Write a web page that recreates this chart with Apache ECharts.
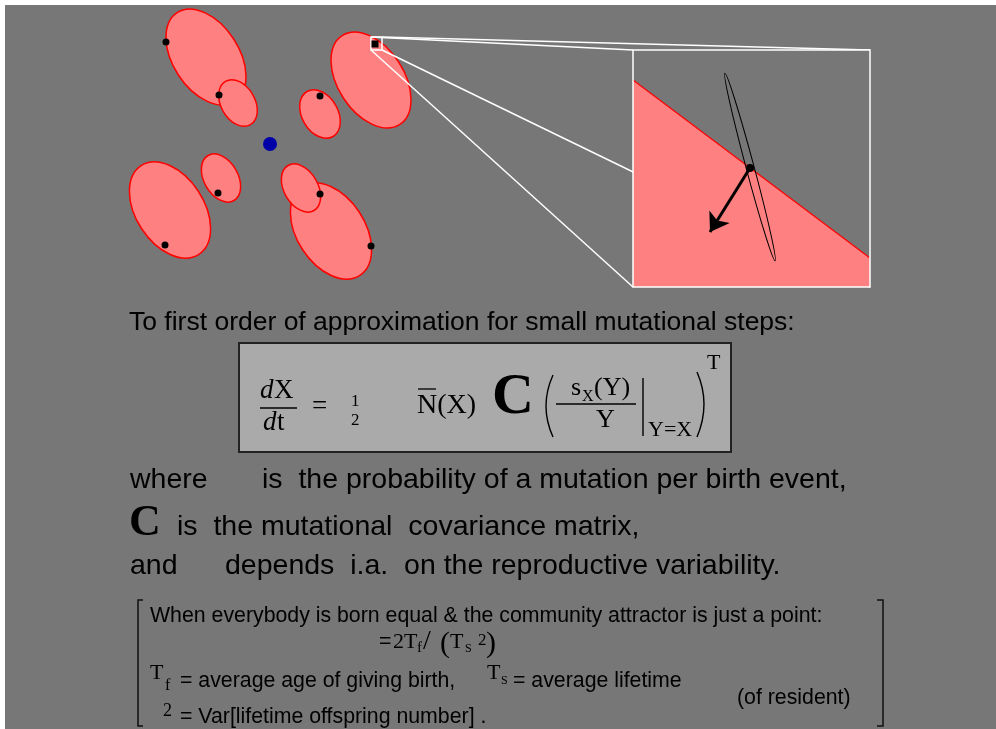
<!DOCTYPE html>
<html>
<head>
<meta charset="utf-8">
<script src="https://cdn.jsdelivr.net/npm/echarts@6/dist/echarts.min.js"></script>
<style>
  html, body { margin: 0; padding: 0; background: #fff; }
  #main { width: 996px; height: 729px; }
</style>
</head>
<body>
<div id="main"></div>
<script>
// ── data (pixel-space axes: x 0..996, y 0..729 downwards) ──
// mutant ellipses: big ones first, small ones drawn on top
const ellipseX    = [206, 371, 170, 331, 238, 320, 221, 301];
const ellipseY    = [57, 80, 210, 231, 103, 114, 178, 188];
const ellipseRx   = [53, 53, 53, 53, 25, 26, 26, 26];
const ellipseRy   = [33, 33, 34, 34, 17, 18, 17, 17];
const ellipseTilt = [57, 57, 57, 57, 60, 60, 60, 60];

// black resident-strategy dots
const dotX = [166, 219, 320, 218, 165, 320, 371];
const dotY = [42, 95, 96, 193, 245, 194, 246];
const squareDot = [375, 44];
const blueDot = [270, 144];

// zoomed detail
const zoomBox  = [371, 37, 382, 50];      // x1, y1, x2, y2
const insetBox = [633, 50, 870, 287];
const boundaryX = [633, 870];
const boundaryY = [80, 258];
const thinEllipse = [750, 167, 97, 4, 75]; // cx, cy, rx, ry, tilt
const insetDot = [750, 168];
const arrowTip = [710, 232];

const SANS = '"Liberation Sans", Arial, sans-serif';
const SERIF = '"Liberation Serif", "Times New Roman", serif';

const ellipseData = ellipseX.map((x, i) => [x, ellipseY[i], ellipseRx[i], ellipseRy[i], ellipseTilt[i]]);
const zoomLines = [
  [[zoomBox[0], zoomBox[1]], [insetBox[0], insetBox[1]]],
  [[zoomBox[2], zoomBox[1]], [insetBox[2], insetBox[1]]],
  [[zoomBox[0], zoomBox[3]], [insetBox[0], insetBox[3]]],
  [[zoomBox[2], zoomBox[3]], [insetBox[2], insetBox[3]]],
];

// ── text helper: place by baseline ──
function t(x, base, str, size, family, weight, style) {
  return {
    type: 'text', x: x, y: base - size * 0.32, silent: true,
    style: {
      text: str, fill: '#000', verticalAlign: 'middle',
      fontSize: size, fontFamily: family || SANS,
      fontWeight: weight || 'normal', fontStyle: style || 'normal'
    }
  };
}
function ln(x1, y1, x2, y2, w) {
  return { type: 'line', silent: true, shape: { x1, y1, x2, y2 }, style: { stroke: '#000', lineWidth: w || 1.3 } };
}
function curve(x1, y1, cx, cy, x2, y2) {
  return { type: 'bezierCurve', silent: true, shape: { x1, y1, cpx1: cx, cpy1: cy, x2, y2 }, style: { stroke: '#000', lineWidth: 1.4, fill: null } };
}
function bracket(pts) {
  return { type: 'polyline', silent: true, shape: { points: pts }, style: { stroke: '#111', lineWidth: 1.5, fill: null } };
}

const BIG = 28.5, SMALL = 21.3;

const texts = [
  { type: 'rect', shape: { x: 0, y: 0, width: 996, height: 5 }, style: { fill: '#fff' }, silent: true },
  { type: 'rect', shape: { x: 0, y: 0, width: 5, height: 729 }, style: { fill: '#fff' }, silent: true },

  t(129, 331, 'To first order of approximation for small mutational steps:', 26.5),

  // formula box
  { type: 'rect', silent: true, shape: { x: 239, y: 343, width: 492, height: 109 }, style: { fill: '#AAAAAA', stroke: '#222', lineWidth: 2 } },
  t(260, 400, 'd', 27, SERIF, 'normal', 'italic'),
  t(274, 400, 'X', 27, SERIF),
  ln(260, 408, 297, 408),
  t(263, 432, 'd', 27, SERIF, 'normal', 'italic'),
  t(277, 432, 't', 27, SERIF),
  t(312, 416, '=', 27, SERIF),
  t(351, 407, '1', 17, SERIF),
  t(351, 426, '2', 17, SERIF),
  t(417, 415, 'N(X)', 28, SERIF),
  ln(418, 389, 436, 389, 1.3),
  t(492, 417, 'C', 58, SERIF, 'bold'),
  curve(553, 375, 539, 406, 553, 437),
  t(571, 396, 's', 26, SERIF),
  t(582, 402, 'X', 16, SERIF),
  t(594, 396, '(Y)', 26, SERIF),
  ln(556, 404, 636, 404),
  t(596, 428, 'Y', 26, SERIF),
  ln(643, 378, 643, 436, 1.4),
  t(648, 437, 'Y=X', 22, SERIF),
  curve(697, 372, 711, 404, 697, 437),
  t(707, 370, 'T', 22, SERIF),

  t(130, 489, 'where', BIG),
  t(262, 489, 'is  the probability of a mutation per birth event,', BIG),
  t(129, 538, 'C', 44, SERIF, 'bold'),
  t(177, 536, 'is  the mutational  covariance matrix,', BIG),
  t(130, 575, 'and', BIG),
  t(225, 575, 'depends  i.a.  on the reproductive variability.', BIG),

  // bracketed note
  bracket([[143, 600], [138, 600], [138, 726], [143, 726]]),
  bracket([[877, 600], [883, 600], [883, 726], [877, 726]]),
  t(150, 623, 'When everybody is born equal & the community attractor is just a point:', SMALL),
  t(379, 649, '=', SMALL),
  t(393, 649, '2', 22, SERIF),
  t(404, 649, 'T', 22, SERIF),
  t(417, 653, 'f', 15, SERIF),
  t(423, 651, '/', 28, SERIF),
  t(440, 654, '(', 30, SERIF),
  t(450, 649, 'T', 22, SERIF),
  t(465, 653, 'S', 12, SERIF),
  t(478, 646, '2', 17, SERIF),
  t(486, 654, ')', 30, SERIF),
  t(150, 680, 'T', 22, SERIF),
  t(165, 691, 'f', 16, SERIF),
  t(180, 688, '= average age of giving birth,', SMALL),
  t(487, 680, 'T', 22, SERIF),
  t(501, 685, 'S', 12, SERIF),
  t(513, 688, '= average lifetime', SMALL),
  t(737, 705, '(of resident)', SMALL),
  t(163, 717, '2', 18, SERIF),
  t(180, 724, '= Var[lifetime offspring number] .', SMALL),
];

const chart = echarts.init(document.getElementById('main'), null, { renderer: 'canvas' });
chart.setOption({
  backgroundColor: '#777777',
  animation: false,
  grid: { left: 0, right: 0, top: 0, bottom: 0 },
  xAxis: { type: 'value', min: 0, max: 996, show: false },
  yAxis: { type: 'value', min: 0, max: 729, inverse: true, show: false },
  graphic: texts,
  series: [
    {
      type: 'custom', z: 2, silent: true,
      data: ellipseData,
      renderItem: (params, api) => {
        const c = api.coord([api.value(0), api.value(1)]);
        const s = api.size([api.value(2), api.value(3)]);
        return {
          type: 'ellipse', x: c[0], y: c[1],
          rotation: -api.value(4) * Math.PI / 180,
          shape: { cx: 0, cy: 0, rx: s[0], ry: s[1] },
          style: { fill: '#FF8080', stroke: '#FF0000', lineWidth: 1.5 }
        };
      }
    },
    {
      type: 'lines', coordinateSystem: 'cartesian2d', z: 3, silent: true,
      data: zoomLines.map(c => ({ coords: c })),
      lineStyle: { color: '#fff', width: 1.5, opacity: 1 }
    },
    {
      type: 'custom', z: 4, silent: true,
      data: [[0]],
      renderItem: (params, api) => {
        const p1 = api.coord([insetBox[0], insetBox[1]]);
        const p2 = api.coord([insetBox[2], insetBox[3]]);
        const b1 = api.coord([boundaryX[0], boundaryY[0]]);
        const b2 = api.coord([boundaryX[1], boundaryY[1]]);
        const ec = api.coord([thinEllipse[0], thinEllipse[1]]);
        const es = api.size([thinEllipse[2], thinEllipse[3]]);
        const d = api.coord(insetDot);
        return {
          type: 'group',
          children: [
            { type: 'rect', shape: { x: p1[0], y: p1[1], width: p2[0] - p1[0], height: p2[1] - p1[1] }, style: { fill: '#777777' } },
            { type: 'polygon', shape: { points: [b1, b2, [p2[0], p2[1]], [p1[0], p2[1]]] }, style: { fill: '#FF8080' } },
            { type: 'line', shape: { x1: b1[0], y1: b1[1], x2: b2[0], y2: b2[1] }, style: { stroke: '#FF0000', lineWidth: 1.2 } },
            { type: 'rect', shape: { x: p1[0], y: p1[1], width: p2[0] - p1[0], height: p2[1] - p1[1] }, style: { fill: null, stroke: '#fff', lineWidth: 1.5 } },
            { type: 'ellipse', x: ec[0], y: ec[1], rotation: -thinEllipse[4] * Math.PI / 180,
              shape: { cx: 0, cy: 0, rx: es[0], ry: es[1] }, style: { fill: null, stroke: '#000', lineWidth: 1 } },
            { type: 'circle', shape: { cx: d[0], cy: d[1], r: 4 }, style: { fill: '#000' } }
          ]
        };
      }
    },
    {
      type: 'lines', coordinateSystem: 'cartesian2d', z: 5, silent: true,
      symbol: ['none', 'arrow'], symbolSize: 18,
      data: [{ coords: [insetDot, arrowTip] }],
      lineStyle: { color: '#000', width: 3, opacity: 1 }
    },
    {
      type: 'custom', z: 6, silent: true,
      data: [zoomBox],
      renderItem: (params, api) => {
        const a = api.coord([api.value(0), api.value(1)]);
        const b = api.coord([api.value(2), api.value(3)]);
        return { type: 'rect', shape: { x: a[0], y: a[1], width: b[0] - a[0], height: b[1] - a[1] }, style: { fill: null, stroke: '#fff', lineWidth: 1.5 } };
      }
    },
    {
      type: 'scatter', z: 7, silent: true,
      symbol: 'circle', symbolSize: 7,
      itemStyle: { color: '#000', opacity: 1 },
      data: dotX.map((x, i) => [x, dotY[i]])
    },
    {
      type: 'scatter', z: 7, silent: true,
      symbol: 'rect', symbolSize: 7,
      itemStyle: { color: '#000', opacity: 1 },
      data: [squareDot]
    },
    {
      type: 'scatter', z: 7, silent: true,
      symbol: 'circle', symbolSize: 14,
      itemStyle: { color: '#0000A8', opacity: 1 },
      data: [blueDot]
    }
  ]
});
</script>
</body>
</html>
